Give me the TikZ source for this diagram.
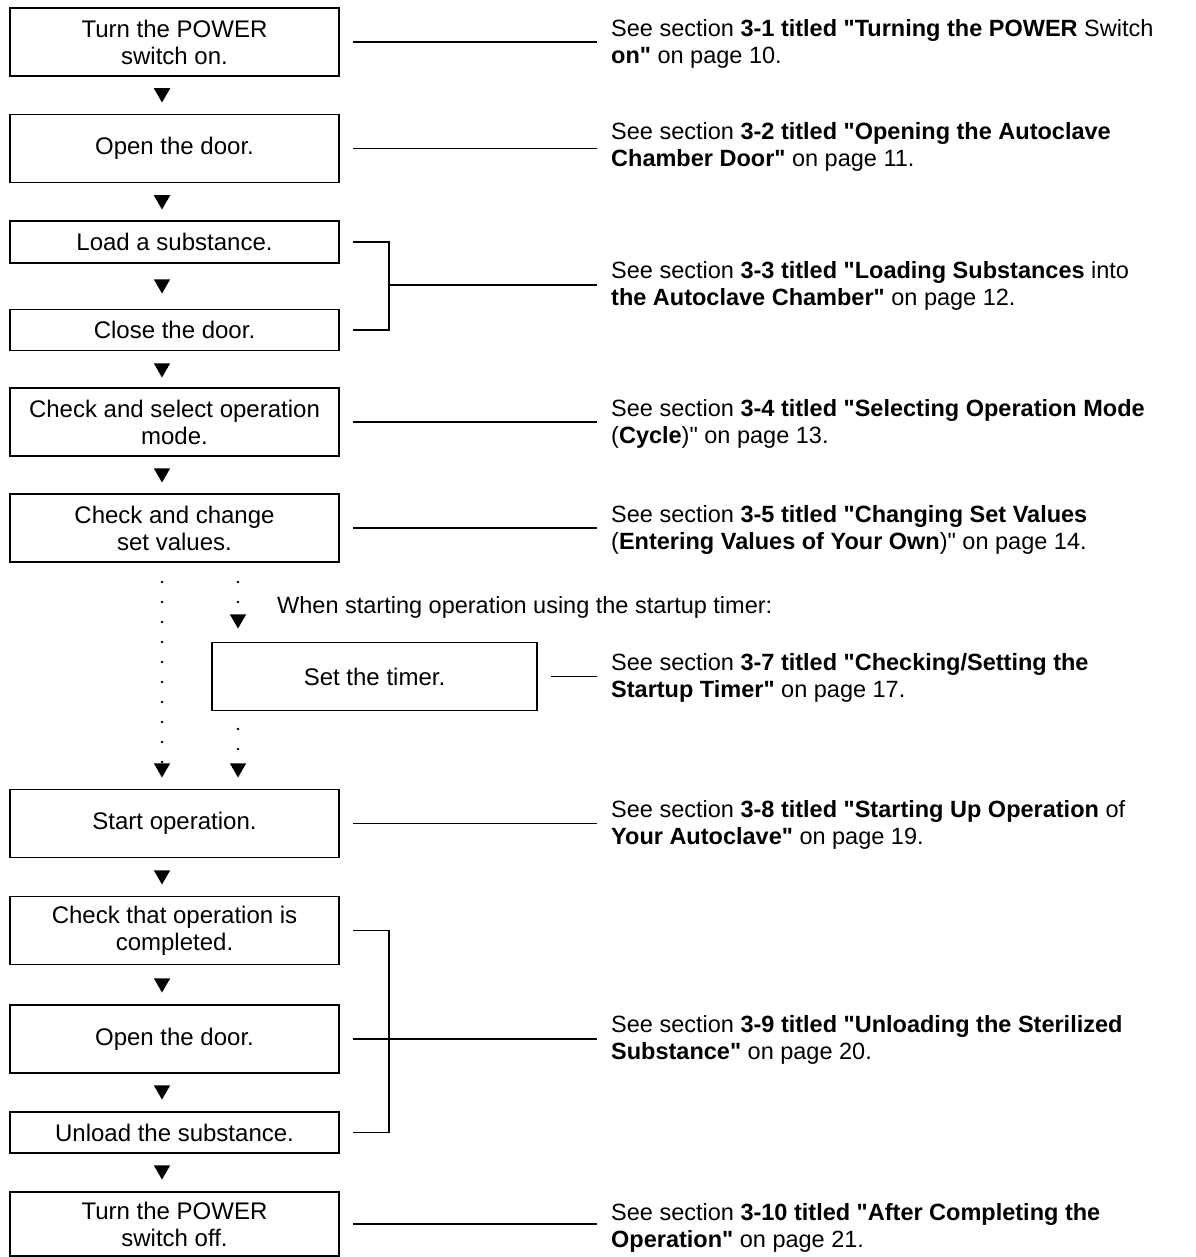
\documentclass[tikz,border=0pt]{standalone}
\usepackage{fontspec}
\setmainfont{Liberation Sans}
\usepackage{tikz}
\usetikzlibrary{calc}
\usetikzlibrary{arrows.meta}
\usetikzlibrary{shapes.geometric}
\usetikzlibrary{positioning}
\tikzset{>=latex}
\newcommand{\dq}{\textquotedbl}
\tikzstyle{box} = [rectangle, draw=black, line width=1.8pt, minimum width=329pt, minimum height=68pt, align=center, font=\fontsize{24}{27}\selectfont]
\tikzstyle{ref} = [anchor=west, align=left, inner sep=0pt, font=\fontsize{23.5}{27}\selectfont]
\tikzstyle{tri} = [regular polygon, regular polygon sides=3, shape border rotate=180, fill=black, inner sep=0pt, minimum size=19pt]
\tikzstyle{lead} = [-, line width=1.1pt, shorten <=13pt, shorten >=14pt]
\tikzstyle{dotline} = [-, line width=2.6pt, line cap=round, dash pattern=on 0pt off 20pt]

\begin{document}
\begin{tikzpicture}[x=1pt, y=-1pt]
\useasboundingbox (0,0) rectangle (1195,1257);
% steps
\node [box] (P1) at (174.5, 42) {Turn the POWER\\switch on.};
\node [box] (D1) at (174.5, 148.5) {Open the door.};
\node [box, minimum height=42pt] (L) at (174.5, 242) {Load a substance.};
\node [box, minimum height=41pt] (C) at (174.5, 330) {Close the door.};
\node [box] (M) at (174.5, 422) {Check and select operation\\mode.};
\node [box] (V) at (174.5, 528) {Check and change\\set values.};
\node [box, minimum width=325pt] (T) at (374.5, 676.5) {Set the timer.};
\node [box] (S) at (174.5, 823.5) {Start operation.};
\node [box] (K) at (174.5, 930.5) {Check that operation is\\completed.};
\node [box] (D2) at (174.5, 1039) {Open the door.};
\node [box, minimum height=41pt] (U) at (174.5, 1132.5) {Unload the substance.};
\node [box, minimum height=64pt] (P2) at (174.5, 1224) {Turn the POWER\\switch off.};
% arrow heads
\node [tri] (a1) at (162, 93) {};
\node [tri] (a2) at (162, 200) {};
\node [tri] (a3) at (162, 284) {};
\node [tri] (a4) at (162, 368) {};
\node [tri] (a5) at (162, 473) {};
\node [tri] (ta) at (238, 619) {};
\node [tri] (la) at (162, 768) {};
\node [tri] (tb) at (238, 768) {};
\node [tri] (a6) at (162, 875) {};
\node [tri] (a7) at (162, 983) {};
\node [tri] (a8) at (162, 1090) {};
\node [tri] (a9) at (162, 1170) {};
% optional timer path
\coordinate (d1) at (162, 582);
\coordinate (d2) at (238, 582);
\coordinate (d3) at (238, 729);
\draw [dotline] (d1) -- (la.north);
\draw [dotline] (d2) -- (ta.north);
\draw [dotline] (d3) -- (tb.north);
\node [anchor=west, inner sep=0pt, font=\fontsize{23.5}{27}\selectfont] (W) at (277, 607) {When starting operation using the startup timer:};
% references
\node [ref] (R1) at (611, 44) {See section \textbf{3-1 titled \dq Turning the POWER} Switch\\\textbf{on\dq} on page 10.};
\node [ref] (R2) at (611, 147) {See section \textbf{3-2 titled \dq Opening the Autoclave}\\\textbf{Chamber Door\dq} on page 11.};
\node [ref] (R3) at (611, 286) {See section \textbf{3-3 titled \dq Loading Substances} into\\\textbf{the Autoclave Chamber\dq} on page 12.};
\node [ref] (R4) at (611, 424) {See section \textbf{3-4 titled \dq Selecting Operation Mode}\\(\textbf{Cycle})\dq{} on page 13.};
\node [ref] (R5) at (611, 530) {See section \textbf{3-5 titled \dq Changing Set Values}\\(\textbf{Entering Values of Your Own})\dq{} on page 14.};
\node [ref] (R7) at (611, 678) {See section \textbf{3-7 titled \dq Checking/Setting the}\\\textbf{Startup Timer\dq} on page 17.};
\node [ref] (R8) at (611, 825) {See section \textbf{3-8 titled \dq Starting Up Operation} of\\\textbf{Your Autoclave\dq} on page 19.};
\node [ref] (R9) at (611, 1040) {See section \textbf{3-9 titled \dq Unloading the Sterilized}\\\textbf{Substance\dq} on page 20.};
\node [ref] (R10) at (611, 1228) {See section \textbf{3-10 titled \dq After Completing the}\\\textbf{Operation\dq} on page 21.};
% leader lines
\draw [lead] (P1.east) -- (P1.east -| R1.west);
\draw [lead] (D1.east) -- (D1.east -| R2.west);
\draw [lead] (M.east) -- (M.east -| R4.west);
\draw [lead] (V.east) -- (V.east -| R5.west);
\draw [lead] (T.east) -- (T.east -| R7.west);
\draw [lead] (S.east) -- (S.east -| R8.west);
\draw [lead] (D2.east) -- (D2.east -| R9.west);
\draw [lead] (P2.east) -- (P2.east -| R10.west);
% brackets
\coordinate (b1) at (389, 285);
\coordinate (b2) at (389, 1039);
\draw [line width=1.1pt] ([xshift=13pt]L.east) -| (b1) |- ([xshift=13pt]C.east);
\draw [lead, shorten <=0pt] (b1) -- (b1 -| R3.west);
\draw [line width=1.1pt] ([xshift=13pt]K.east) -| (b2) |- ([xshift=13pt]U.east);
\end{tikzpicture}
\end{document}
